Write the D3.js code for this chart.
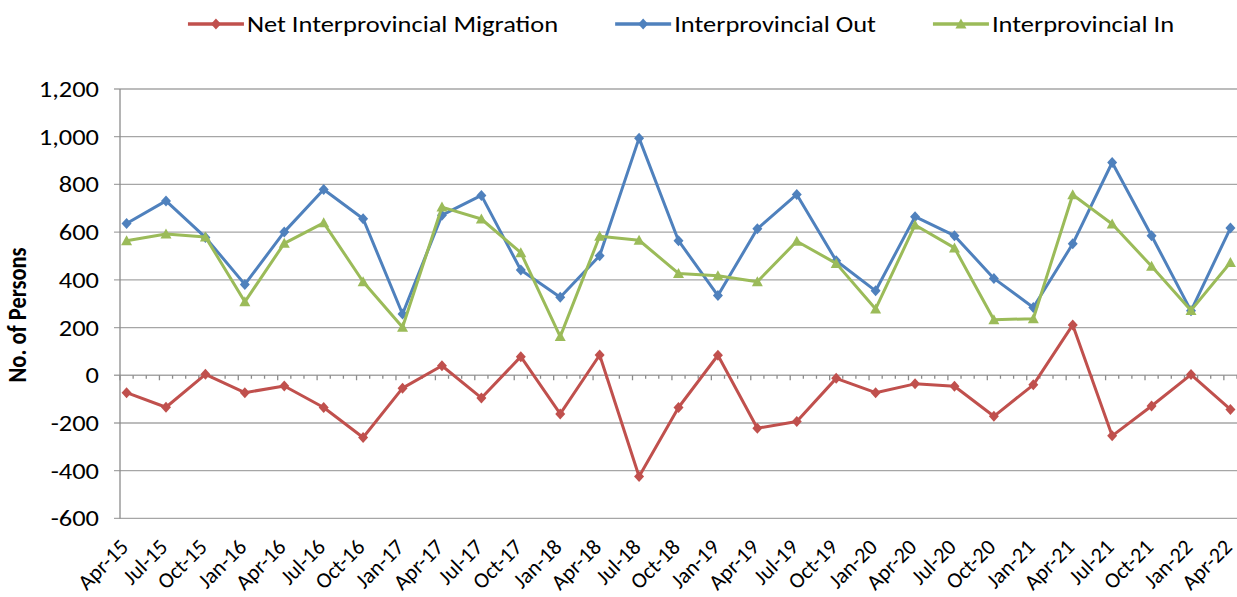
<!DOCTYPE html>
<html>
<head>
<meta charset="utf-8">
<script src="https://cdn.jsdelivr.net/npm/d3@7"></script>
<style>
  body { margin: 0; background: #fff; }
  text { font-family: Carlito, Lato, "Liberation Sans", sans-serif; fill: #000; }
</style>
</head>
<body>
<svg id="chart" width="1237" height="597"></svg>
<script>
// quarterly labels, one point every 3 months
var labels = ["Apr-15","Jul-15","Oct-15","Jan-16","Apr-16","Jul-16","Oct-16","Jan-17",
  "Apr-17","Jul-17","Oct-17","Jan-18","Apr-18","Jul-18","Oct-18","Jan-19","Apr-19",
  "Jul-19","Oct-19","Jan-20","Apr-20","Jul-20","Oct-20","Jan-21","Apr-21","Jul-21",
  "Oct-21","Jan-22","Apr-22"];

var netMigration = [-73,-134,4,-73,-45,-135,-261,-54,40,-95,78,-162,85,-424,-135,84,-222,
  -194,-13,-73,-36,-46,-172,-40,211,-254,-129,3,-143];
var outMigration = [636,731,578,381,601,779,656,257,671,754,441,327,501,994,564,334,614,
  758,480,354,665,585,406,284,551,892,585,270,617];
var inMigration = [564,592,580,308,553,639,392,201,705,655,514,162,583,566,427,417,392,
  562,469,278,630,534,233,237,757,634,457,272,473];

var yTicks = [-600,-400,-200,0,200,400,600,800,1000,1200];

var series = [
  { name: "Net Interprovincial Migration", values: netMigration, color: "#C0504D", marker: "diamond" },
  { name: "Interprovincial Out", values: outMigration, color: "#4F81BD", marker: "diamond" },
  { name: "Interprovincial In", values: inMigration, color: "#9BBB59", marker: "triangle" }
];

var svg = d3.select("#chart");
var plotLeft = 120, plotRight = 1237, plotTop = 89, plotBottom = 518.4;
var nMonths = (labels.length - 1) * 3 + 1;
var stretch = 1.15; // the original text is a bit wide for its height
var fmt = d3.formatLocale({ decimal: ".", thousands: ",", grouping: [3], currency: ["", ""], minus: "-" }).format(",");

// date-style axis: one band per month, points sit in the middle of their month
var x = d3.scaleLinear().domain([0, nMonths]).range([plotLeft, plotRight]);
var y = d3.scaleLinear().domain([-600, 1200]).range([plotBottom, plotTop]);
function px(i) { return x(i * 3 + 0.5); }

var markerPath = {
  diamond: "M0,-5.5L5,0L0,5.5L-5,0Z",
  triangle: "M0,-5.5L5.5,4.5L-5.5,4.5Z"
};

// gridlines
svg.append("g").selectAll("line").data(yTicks).enter().append("line")
  .attr("x1", plotLeft - 6).attr("x2", plotRight)
  .attr("y1", d => y(d)).attr("y2", d => y(d))
  .attr("stroke", "#a6a6a6").attr("stroke-width", 1.3);

// y axis line
svg.append("line")
  .attr("x1", plotLeft).attr("x2", plotLeft)
  .attr("y1", y(1200)).attr("y2", y(-600))
  .attr("stroke", "#8c8c8c").attr("stroke-width", 1.3);

// x axis crosses at 0, monthly ticks, bigger every quarter
var tickData = d3.range(0, nMonths + 1);
svg.append("g").selectAll("line").data(tickData).enter().append("line")
  .attr("x1", d => x(d)).attr("x2", d => x(d))
  .attr("y1", y(0)).attr("y2", d => y(0) + (d % 3 === 0 ? 5 : 3.5))
  .attr("stroke", "#8c8c8c").attr("stroke-width", 1.3);

// y tick labels
svg.append("g").selectAll("text").data(yTicks).enter().append("text")
  .attr("transform", d => "translate(99," + y(d) + ") scale(" + stretch + ",1)")
  .attr("dy", "0.35em")
  .attr("text-anchor", "end").style("font-size", "23px")
  .text(d => fmt(d));

// y title
svg.append("text")
  .attr("transform", "translate(26,315) scale(" + stretch + ",1) rotate(-90)")
  .attr("text-anchor", "middle").style("font-size", "22.5px").style("font-weight", "bold")
  .text("No. of Persons");

// x labels, rotated
svg.append("g").selectAll("text").data(labels).enter().append("text")
  .attr("transform", (d, i) => "translate(" + (px(i) - 2.5) + ",543) rotate(-45)")
  .attr("text-anchor", "end").attr("dy", "0.35em").style("font-size", "22px")
  .text(d => d);

// series lines and markers
var line = d3.line().x((d, i) => px(i)).y(d => y(d));
series.forEach(function(s) {
  var g = svg.append("g");
  g.append("path").datum(s.values)
    .attr("d", line).attr("fill", "none")
    .attr("stroke", s.color).attr("stroke-width", 3).attr("stroke-linejoin", "round");
  g.selectAll("path.m").data(s.values).enter().append("path")
    .attr("class", "m")
    .attr("d", markerPath[s.marker])
    .attr("transform", (d, i) => "translate(" + px(i) + "," + y(d) + ")")
    .attr("fill", s.color);
});

// legend
var legend = svg.append("g");
var cursor = 0;
series.forEach(function(s, k) {
  var item = legend.append("g").attr("transform", "translate(" + cursor + ",0)");
  item.append("line").attr("x1", 0).attr("x2", 56).attr("y1", 24).attr("y2", 24)
    .attr("stroke", s.color).attr("stroke-width", 3.5);
  item.append("path").attr("d", markerPath[s.marker])
    .attr("transform", "translate(28,24)").attr("fill", s.color);
  var t = item.append("text")
    .attr("transform", "translate(59,24) scale(" + stretch + ",1)")
    .attr("dy", "0.35em")
    .style("font-size", "23px").text(s.name);
  cursor += 59 + t.node().getComputedTextLength() * stretch + 57;
});
var legendW = cursor - 57;
legend.attr("transform", "translate(" + (681 - legendW / 2) + ",0)");
</script>
</body>
</html>
